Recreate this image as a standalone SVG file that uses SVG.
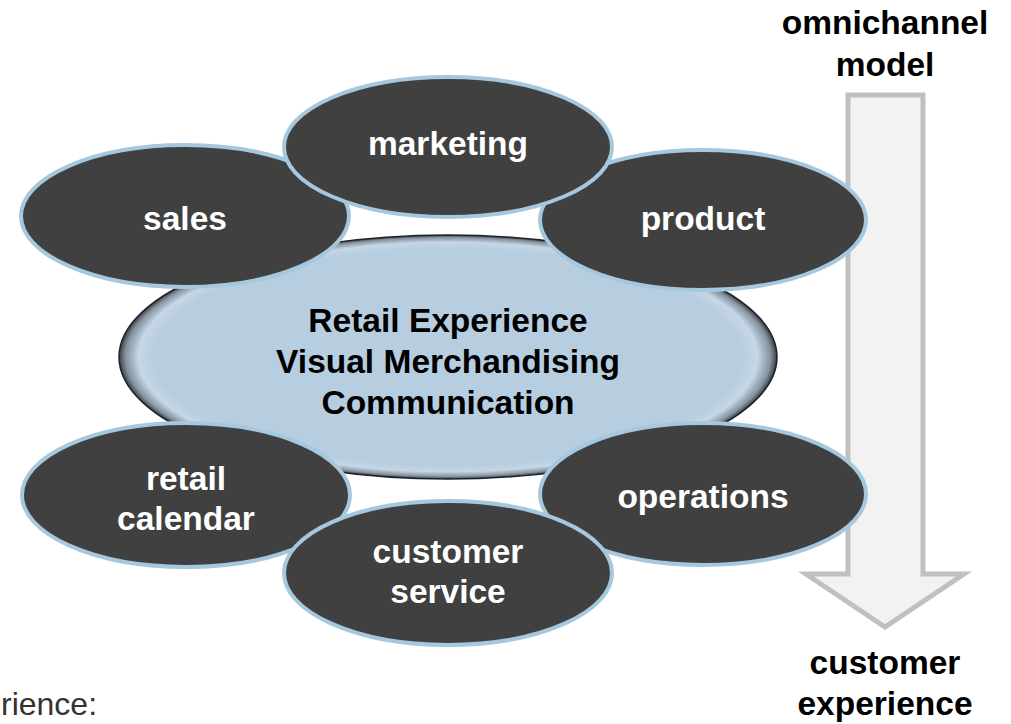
<svg xmlns="http://www.w3.org/2000/svg" width="1011" height="724" viewBox="0 0 1011 724">
  <defs>
    <radialGradient id="hubFill" cx="50%" cy="50%" r="50%">
      <stop offset="0%" stop-color="#b7cde0"/>
      <stop offset="89%" stop-color="#b7cde0"/>
      <stop offset="94%" stop-color="#c6d7e5"/>
      <stop offset="98%" stop-color="#8592a0"/>
      <stop offset="100%" stop-color="#3a3f45"/>
    </radialGradient>
  </defs>
  <style>
    .node ellipse { fill: #404040; stroke: #a6c8de; stroke-width: 4; }
    .lbl { font-family: "Liberation Sans", Arial, sans-serif; font-weight: bold; font-size: 33.5px; text-anchor: middle; }
    .wt { fill: #ffffff; }
    .bk { fill: #000000; }
  </style>
  <rect width="1011" height="724" fill="#ffffff"/>

  <g id="flow-arrow">
    <polygon points="848,95 923,95 923,574 964,574 885,627 806,574 848,574" fill="#f2f2f2" stroke="#c0c0c0" stroke-width="5" stroke-linejoin="miter"/>
  </g>

  <g id="hub">
    <ellipse cx="448" cy="357" rx="329" ry="122" fill="url(#hubFill)" stroke="#1f2226" stroke-width="1.5"/>
    <text class="lbl bk" x="448" y="332">Retail Experience</text>
    <text class="lbl bk" x="448" y="373">Visual Merchandising</text>
    <text class="lbl bk" x="448" y="414">Communication</text>
  </g>

  <g id="sales" class="node">
    <ellipse cx="185" cy="216" rx="164" ry="71"/>
    <text class="lbl wt" x="185" y="230">sales</text>
  </g>
  <g id="product" class="node">
    <ellipse cx="703" cy="220" rx="163" ry="70"/>
    <text class="lbl wt" x="703" y="230">product</text>
  </g>
  <g id="marketing" class="node">
    <ellipse cx="448" cy="147" rx="164" ry="70"/>
    <text class="lbl wt" x="448" y="155">marketing</text>
  </g>
  <g id="retail-calendar" class="node">
    <ellipse cx="186" cy="495" rx="164" ry="72"/>
    <text class="lbl wt" x="186" y="490">retail</text>
    <text class="lbl wt" x="186" y="530">calendar</text>
  </g>
  <g id="operations" class="node">
    <ellipse cx="703" cy="494" rx="163" ry="71"/>
    <text class="lbl wt" x="703" y="508">operations</text>
  </g>
  <g id="customer-service" class="node">
    <ellipse cx="448" cy="573" rx="164" ry="72"/>
    <text class="lbl wt" x="448" y="563">customer</text>
    <text class="lbl wt" x="448" y="603">service</text>
  </g>

  <g id="arrow-labels">
    <text class="lbl bk" x="885" y="34">omnichannel</text>
    <text class="lbl bk" x="885" y="76">model</text>
    <text class="lbl bk" x="885" y="674">customer</text>
    <text class="lbl bk" x="885" y="715">experience</text>
  </g>

  <text x="1" y="715" font-family="'Liberation Sans', Arial, sans-serif" font-size="32" fill="#333333">rience:</text>
</svg>
